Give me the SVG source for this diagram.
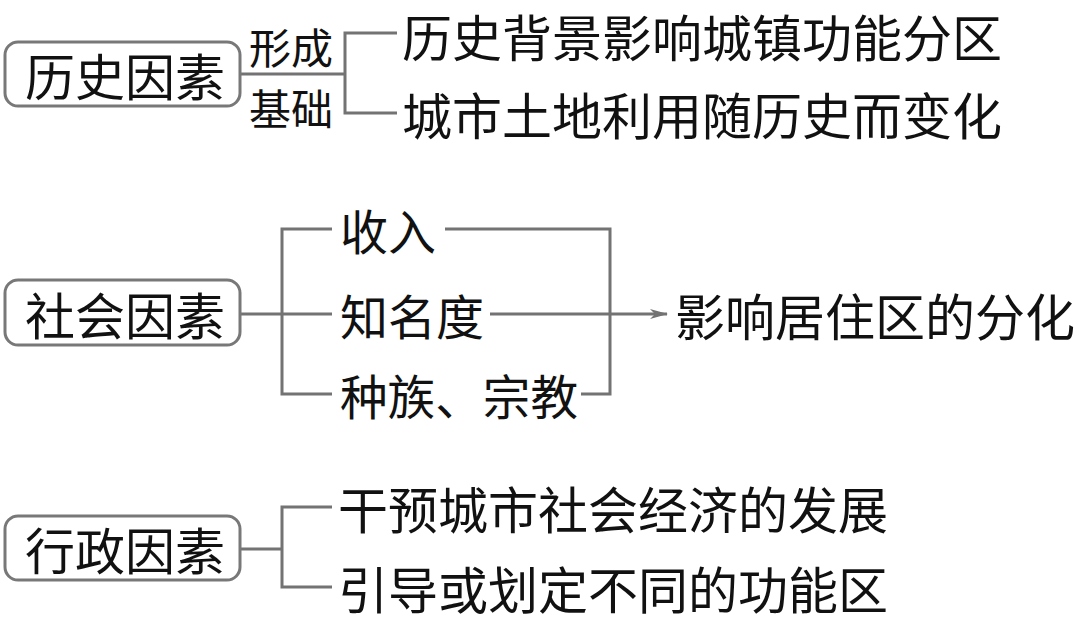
<svg xmlns="http://www.w3.org/2000/svg" width="1080" height="623" viewBox="0 0 1080 623">
<style>
.box{fill:#fff;stroke:#787878;stroke-width:3}
.ln{fill:none;stroke:#737373;stroke-width:3}
.t{font-family:"Noto Sans CJK SC","Noto Sans CJK TC",sans-serif;fill:#111;dominant-baseline:central}
.big{font-size:50px}
.mid{font-size:48px}
.sm{font-size:42px}
</style>
<defs>
<marker id="arr" viewBox="0 0 18 10" refX="17" refY="5" markerWidth="18" markerHeight="10" markerUnits="userSpaceOnUse" orient="auto">
<path d="M0,0 L18,5 L0,10 L5,5 Z" fill="#737373"/>
</marker>
</defs>
<rect width="1080" height="623" fill="#fff"/>
<g id="connectors">
<path class="ln" d="M240,74 H345 M397,33 H345 V113 H397"/>
<path class="ln" d="M240,314 H332 M332,229 H282 V394 H332"/>
<path class="ln" d="M445,229 H610 V394 H581"/>
<line class="ln" x1="490" y1="314" x2="667" y2="314" marker-end="url(#arr)"/>
<path class="ln" d="M240,549 H282 M332,507 H282 V587 H332"/>
</g>
<g id="history">
<rect class="box" x="5" y="42" width="235" height="64" rx="13"/>
<text class="t big" x="25" y="74">历史因素</text>
</g>
<g id="label-xingcheng"><text class="t sm" x="249" y="45">形成</text></g>
<g id="label-jichu"><text class="t sm" x="249" y="106">基础</text></g>
<g id="h1"><text class="t big" x="402" y="35">历史背景影响城镇功能分区</text></g>
<g id="h2"><text class="t big" x="402" y="113">城市土地利用随历史而变化</text></g>
<g id="social">
<rect class="box" x="5" y="280" width="235" height="65" rx="13"/>
<text class="t big" x="25" y="313">社会因素</text>
</g>
<g id="s1"><text class="t mid" x="340" y="229">收入</text></g>
<g id="s2"><text class="t mid" x="340" y="314">知名度</text></g>
<g id="s3"><text class="t mid" x="340" y="394" textLength="238" lengthAdjust="spacingAndGlyphs">种族、宗教</text></g>
<g id="result"><text class="t big" x="675" y="314">影响居住区的分化</text></g>
<g id="admin">
<rect class="box" x="5" y="516" width="235" height="64" rx="13"/>
<text class="t big" x="25" y="548">行政因素</text>
</g>
<g id="a1"><text class="t big" x="338" y="507">干预城市社会经济的发展</text></g>
<g id="a2"><text class="t big" x="338" y="587">引导或划定不同的功能区</text></g>
</svg>
